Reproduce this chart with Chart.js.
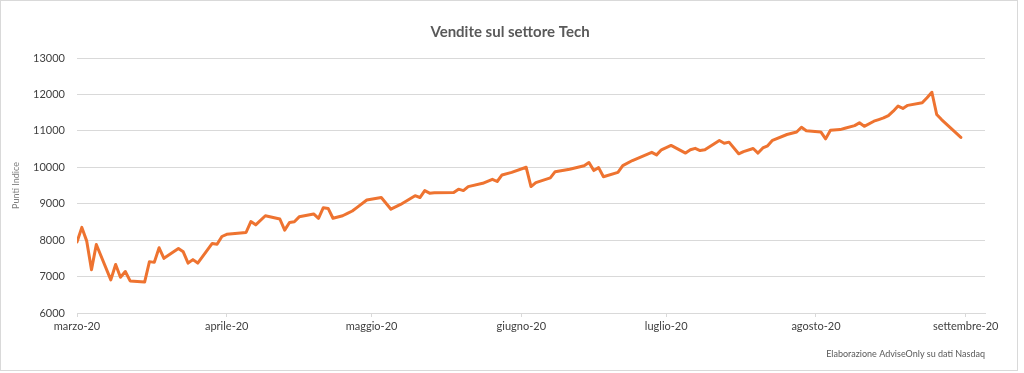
<!DOCTYPE html>
<html lang="it">
<head>
<meta charset="utf-8">
<title>Vendite sul settore Tech</title>
<script src="https://cdn.jsdelivr.net/npm/chart.js@4/dist/chart.umd.min.js"></script>
<style>
  html, body { margin: 0; padding: 0; background: #fff; }
  #box { position: relative; width: 1024px; height: 373px; }
  #cornice { position: absolute; left: 0; top: 0; width: 1018px; height: 371px;
             box-sizing: border-box; border: 1px solid #d9d9d9; }
  #grafico { position: absolute; left: 0; top: 0; }
</style>
</head>
<body>
<div id="box">
  <div id="cornice"></div>
  <canvas id="grafico" width="1024" height="373"></canvas>
</div>
<script>
// giorni dal 1 marzo 2020
const giorni = [0,1,2,3,4,7,8,9,10,11,14,15,16,17,18,21,22,23,24,25,28,29,30,31,35,36,37,39,42,43,44,45,46,
  49,50,51,52,53,55,56,57,58,60,63,65,67,70,71,72,73,74,78,79,80,81,84,86,87,88,90,93,
  94,95,98,99,102,105,106,107,108,109,112,113,115,119,120,121,123,126,127,128,129,130,133,134,135,137,138,140,
  141,142,143,144,147,149,150,151,154,155,156,158,159,161,162,163,165,166,167,168,169,170,171,172,175,176,177,178,179,183];

const valori = [7950,8350,7980,7190,7880,6910,7330,6980,7140,6880,6850,7410,7390,7790,7500,7770,7680,7370,7465,7370,7910,7885,8100,8160,8210,8510,8420,8670,8580,8275,8485,8505,8640,
  8720,8600,8890,8870,8600,8670,8735,8800,8900,9100,9170,8850,8980,9220,9170,9360,9290,9300,9310,9400,9360,9470,9560,9670,9610,9790,9860,10000,
  9470,9580,9710,9880,9945,10040,10130,9910,9990,9740,9860,10045,10185,10410,10340,10480,10600,10390,10480,10520,10460,10480,10735,10660,10690,10370,10430,10515,
  10390,10530,10590,10740,10900,10970,11100,11005,10970,10780,11015,11035,11070,11145,11220,11125,11265,11310,11355,11420,11540,11680,11615,11700,11770,11910,12060,11450,11310,10820];

const tickGiorni = [0,31,61,92,122,153,184];
const tickEtichette = ['marzo-20','aprile-20','maggio-20','giugno-20','luglio-20','agosto-20','settembre-20'];

const grigio = '#595959';
const arancio = '#EE7330';

// titolo e fonte disegnati a mano
const testi = {
  id: 'testi',
  afterDraw(chart) {
    const ctx = chart.ctx;
    ctx.save();
    ctx.fillStyle = grigio;
    ctx.textBaseline = 'middle';
    ctx.font = 'bold 15px Lato';
    ctx.textAlign = 'center';
    ctx.fillText('Vendite sul settore Tech', 510, 32);
    ctx.font = '9px Lato';
    ctx.textAlign = 'right';
    ctx.fillText('Elaborazione AdviseOnly su dati Nasdaq', 985, 354);
    ctx.restore();
  }
};

const ctx = document.getElementById('grafico').getContext('2d');

new Chart(ctx, {
  type: 'line',
  data: {
    datasets: [{
      label: 'Vendite',
      data: giorni.map((g, i) => ({ x: g, y: valori[i] })),
      borderColor: arancio,
      backgroundColor: arancio,
      borderWidth: 3,
      pointRadius: 0,
      tension: 0,
      fill: false,
      borderJoinStyle: 'round',
      borderCapStyle: 'round'
    }]
  },
  options: {
    responsive: false,
    animation: false,
    layout: { padding: { left: 7, right: 39, top: 58, bottom: 34 } },
    plugins: {
      legend: { display: false },
      tooltip: { enabled: false },
      title: { display: false }
    },
    scales: {
      x: {
        type: 'linear',
        min: 0,
        max: 188,
        afterBuildTicks: s => { s.ticks = tickGiorni.map(v => ({ value: v })); },
        afterFit: s => { s.height = 26; },
        ticks: {
          autoSkip: false,
          maxRotation: 0,
          padding: 3,
          color: '#404040',
          font: { family: 'Lato', size: 11 },
          callback: (v, i) => tickEtichette[i]
        },
        grid: { drawOnChartArea: false, drawTicks: true, tickLength: 4, color: '#d9d9d9' },
        border: { color: '#d9d9d9' }
      },
      y: {
        min: 6000,
        max: 13000,
        afterFit: s => { s.width = 70; },
        ticks: {
          stepSize: 1000,
          padding: 12,
          color: '#404040',
          font: { family: 'Lato', size: 11 },
          callback: v => String(v)
        },
        grid: { color: '#d9d9d9', drawTicks: false },
        border: { display: false },
        title: {
          display: true,
          text: 'Punti Indice',
          color: '#7f7f7f',
          font: { family: 'Lato', size: 9 },
          padding: { top: 4, bottom: 0 }
        }
      }
    }
  },
  plugins: [testi]
});
</script>
</body>
</html>
